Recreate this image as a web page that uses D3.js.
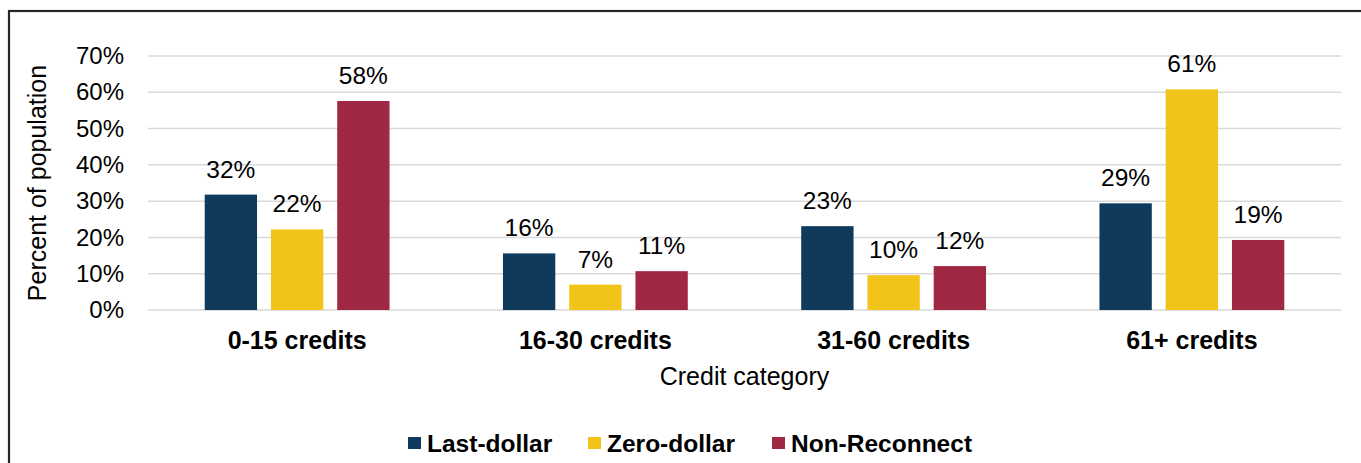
<!DOCTYPE html>
<html>
<head>
<meta charset="utf-8">
<script src="https://cdn.jsdelivr.net/npm/d3@7"></script>
<style>
  body { margin: 0; background: #fff; }
  text { font-family: "Liberation Sans", Arial, sans-serif; fill: #000; }
</style>
</head>
<body>
<div id="chart"></div>
<script>
const categories = ['0-15 credits', '16-30 credits', '31-60 credits', '61+ credits'];
const seriesNames = ['Last-dollar', 'Zero-dollar', 'Non-Reconnect'];
const lastDollar = [31.8, 15.6, 23.1, 29.4];
const zeroDollar = [22.2, 7.0, 9.6, 60.8];
const nonReconnect = [57.6, 10.7, 12.1, 19.3];
const yTicks = [0, 10, 20, 30, 40, 50, 60, 70];
const colors = ['#0f3a5c', '#f2c318', '#a12843'];

const W = 1361, H = 463;
const margin = { top: 56, right: 20, bottom: 153, left: 148 },
      width = 1341 - margin.left,
      height = 310 - margin.top;

const series = [lastDollar, zeroDollar, nonReconnect];
const data = categories.map((c, i) => ({
  category: c,
  values: seriesNames.map((s, j) => ({ series: s, value: series[j][i], color: colors[j] }))
}));

const svg = d3.select('#chart').append('svg')
    .attr('width', W)
    .attr('height', H);

// outer frame
svg.append('rect')
    .attr('x', 9).attr('y', 11)
    .attr('width', W + 20).attr('height', H + 20)
    .attr('fill', 'none')
    .attr('stroke', '#262626')
    .attr('stroke-width', 2.2);

const wrapper = svg.append('g')
    .attr('transform', 'translate(' + margin.left + ',' + margin.top + ')');

const x0 = d3.scaleBand()
    .domain(categories)
    .range([0, width]);

const x1 = d3.scaleBand()
    .domain(seriesNames)
    .range([0, x0.bandwidth()])
    .paddingInner(0.21)
    .paddingOuter(0.856);

const y = d3.scaleLinear()
    .domain([0, 70])
    .range([height, 0]);

// gridlines
wrapper.append('g')
    .selectAll('line')
    .data(yTicks)
  .enter().append('line')
    .attr('x1', 0)
    .attr('x2', width)
    .attr('y1', d => y(d))
    .attr('y2', d => y(d))
    .attr('stroke', '#d9d9d9')
    .attr('stroke-width', 1.5);

// y axis labels
const yAxis = wrapper.append('g')
    .call(d3.axisLeft(y).tickValues(yTicks).tickFormat(d => d + '%').tickSize(0).tickPadding(24));
yAxis.select('.domain').remove();
yAxis.selectAll('text')
    .style('font-size', '24px')
    .attr('font-family', null)
    .style('fill', '#000');

// x axis labels
const xAxis = wrapper.append('g')
    .attr('transform', 'translate(0,' + height + ')')
    .call(d3.axisBottom(x0).tickSize(0).tickPadding(21));
xAxis.select('.domain').remove();
xAxis.selectAll('text')
    .style('font-size', '25px')
    .style('font-weight', 'bold')
    .attr('font-family', null)
    .style('fill', '#000');

const groups = wrapper.append('g')
    .selectAll('g')
    .data(data)
  .enter().append('g')
    .attr('transform', d => 'translate(' + x0(d.category) + ',0)');

groups.selectAll('rect')
    .data(d => d.values)
  .enter().append('rect')
    .attr('x', d => x1(d.series))
    .attr('y', d => y(d.value))
    .attr('width', x1.bandwidth())
    .attr('height', d => height - y(d.value))
    .attr('fill', d => d.color);

groups.selectAll('text.bar-label')
    .data(d => d.values)
  .enter().append('text')
    .attr('class', 'bar-label')
    .attr('x', d => x1(d.series) + x1.bandwidth() / 2)
    .attr('y', d => y(d.value) - 17)
    .attr('text-anchor', 'middle')
    .style('font-size', '24.5px')
    .text(d => Math.round(d.value) + '%');

// axis titles
wrapper.append('text')
    .attr('x', width / 2)
    .attr('y', height + 75)
    .attr('text-anchor', 'middle')
    .style('font-size', '25px')
    .text('Credit category');

wrapper.append('text')
    .attr('transform', 'translate(' + (46 - margin.left) + ',' + (height / 2) + ') rotate(-90)')
    .attr('text-anchor', 'middle')
    .style('font-size', '25px')
    .text('Percent of population');

// legend
const legendX = [408, 588, 772];
const legend = svg.append('g')
    .selectAll('g')
    .data(seriesNames)
  .enter().append('g')
    .attr('transform', (d, i) => 'translate(' + legendX[i] + ',437)');

legend.append('rect')
    .attr('width', 13)
    .attr('height', 12)
    .attr('fill', (d, i) => colors[i]);

legend.append('text')
    .attr('x', 19)
    .attr('y', 14.5)
    .style('font-size', '24.5px')
    .style('font-weight', 'bold')
    .text(d => d);
</script>
</body>
</html>
